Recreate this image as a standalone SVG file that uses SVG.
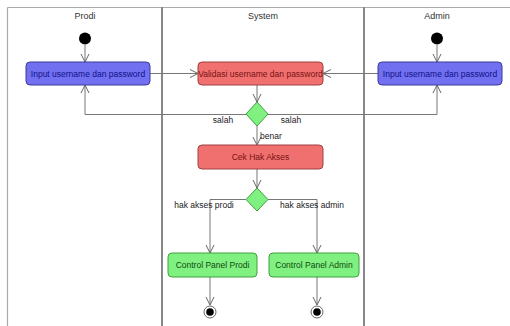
<svg xmlns="http://www.w3.org/2000/svg" width="510" height="326" viewBox="0 0 510 326">
<defs>
<marker id="arr" markerWidth="10" markerHeight="10" refX="9" refY="5" orient="auto" markerUnits="userSpaceOnUse">
<path d="M1,1 L9,5 L1,9" fill="none" stroke="#666" stroke-width="1"/>
</marker>
<style>
text{font-family:"Liberation Sans",Arial,sans-serif;font-size:8.5px;}
.lane{font-size:9px;fill:#333;}
.blue{fill:#7070f0;stroke:#3a3a9a;stroke-width:1;}
.red{fill:#f07070;stroke:#a04040;stroke-width:1;}
.green{fill:#80f080;stroke:#40a040;stroke-width:1;}
.bt{fill:#10108a;}
.rt{fill:#7a1010;}
.gt{fill:#104a10;}
.lbl{fill:#222;}
.c{fill:none;stroke:#777;stroke-width:1;}
</style>
</defs>
<rect width="510" height="326" fill="#fff"/>
<g id="swimlanes">
<line x1="7.5" y1="7.5" x2="510" y2="7.5" stroke="#aaa" stroke-width="1.2"/>
<line x1="7.5" y1="7.5" x2="7.5" y2="326" stroke="#aaa" stroke-width="1.2"/>
<line x1="162" y1="7.5" x2="162" y2="326" stroke="#555" stroke-width="1.4"/>
<line x1="364" y1="7.5" x2="364" y2="326" stroke="#555" stroke-width="1.4"/>
<text class="lane" x="85" y="19" text-anchor="middle">Prodi</text>
<text class="lane" x="263" y="19" text-anchor="middle">System</text>
<text class="lane" x="437" y="19" text-anchor="middle">Admin</text>
</g>
<g id="connectors">
<line class="c" x1="85" y1="45" x2="85" y2="62" marker-end="url(#arr)"/>
<line class="c" x1="437" y1="45" x2="437" y2="62" marker-end="url(#arr)"/>
<line class="c" x1="150" y1="73.5" x2="198" y2="73.5" marker-end="url(#arr)"/>
<line class="c" x1="378" y1="73.5" x2="323" y2="73.5" marker-end="url(#arr)"/>
<line class="c" x1="257" y1="85" x2="257" y2="102" marker-end="url(#arr)"/>
<polyline class="c" points="246,114.5 85,114.5 85,85" marker-end="url(#arr)"/>
<polyline class="c" points="268,114.5 437,114.5 437,85" marker-end="url(#arr)"/>
<line class="c" x1="257" y1="126" x2="257" y2="145" marker-end="url(#arr)"/>
<line class="c" x1="257" y1="169" x2="257" y2="188" marker-end="url(#arr)"/>
<polyline class="c" points="246,199.5 210,199.5 210,253" marker-end="url(#arr)"/>
<polyline class="c" points="268,199.5 317,199.5 317,253" marker-end="url(#arr)"/>
<line class="c" x1="210" y1="277" x2="210" y2="305" marker-end="url(#arr)"/>
<line class="c" x1="317" y1="277" x2="317" y2="305" marker-end="url(#arr)"/>
<text class="lbl" x="223" y="123" text-anchor="middle">salah</text>
<text class="lbl" x="291" y="123" text-anchor="middle">salah</text>
<text class="lbl" x="260" y="139">benar</text>
<text class="lbl" x="204" y="208" text-anchor="middle">hak akses prodi</text>
<text class="lbl" x="312" y="208" text-anchor="middle">hak akses admin</text>
</g>
<g id="start-prodi"><circle cx="85" cy="38.5" r="6" fill="#000"/></g>
<g id="start-admin"><circle cx="437" cy="38.5" r="6" fill="#000"/></g>
<g id="input-prodi">
<rect class="blue" x="26" y="62" width="124" height="23" rx="4"/>
<text class="bt" x="88" y="76.5" text-anchor="middle">Input username dan password</text>
</g>
<g id="validasi">
<rect class="red" x="198" y="62" width="125" height="23" rx="4"/>
<text class="rt" x="260.5" y="76.5" text-anchor="middle">Validasi username dan password</text>
</g>
<g id="input-admin">
<rect class="blue" x="378" y="62" width="124" height="23" rx="4"/>
<text class="bt" x="440" y="76.5" text-anchor="middle">Input username dan password</text>
</g>
<g id="decision1"><polygon class="green" points="257,102 268,114 257,126 246,114"/></g>
<g id="cek-hak-akses">
<rect class="red" x="198" y="145" width="125" height="24" rx="4"/>
<text class="rt" x="260.5" y="160" text-anchor="middle">Cek Hak Akses</text>
</g>
<g id="decision2"><polygon class="green" points="257,188 268,199.5 257,211 246,199.5"/></g>
<g id="cp-prodi">
<rect class="green" x="168" y="253" width="89" height="24" rx="4"/>
<text class="gt" x="212.5" y="268" text-anchor="middle">Control Panel Prodi</text>
</g>
<g id="cp-admin">
<rect class="green" x="269" y="253" width="90" height="24" rx="4"/>
<text class="gt" x="314" y="268" text-anchor="middle">Control Panel Admin</text>
</g>
<g id="end-prodi"><circle cx="210" cy="312" r="6" fill="#fff" stroke="#666"/><circle cx="210" cy="312" r="3.8" fill="#000"/></g>
<g id="end-admin"><circle cx="317" cy="312" r="6" fill="#fff" stroke="#666"/><circle cx="317" cy="312" r="3.8" fill="#000"/></g>
</svg>
